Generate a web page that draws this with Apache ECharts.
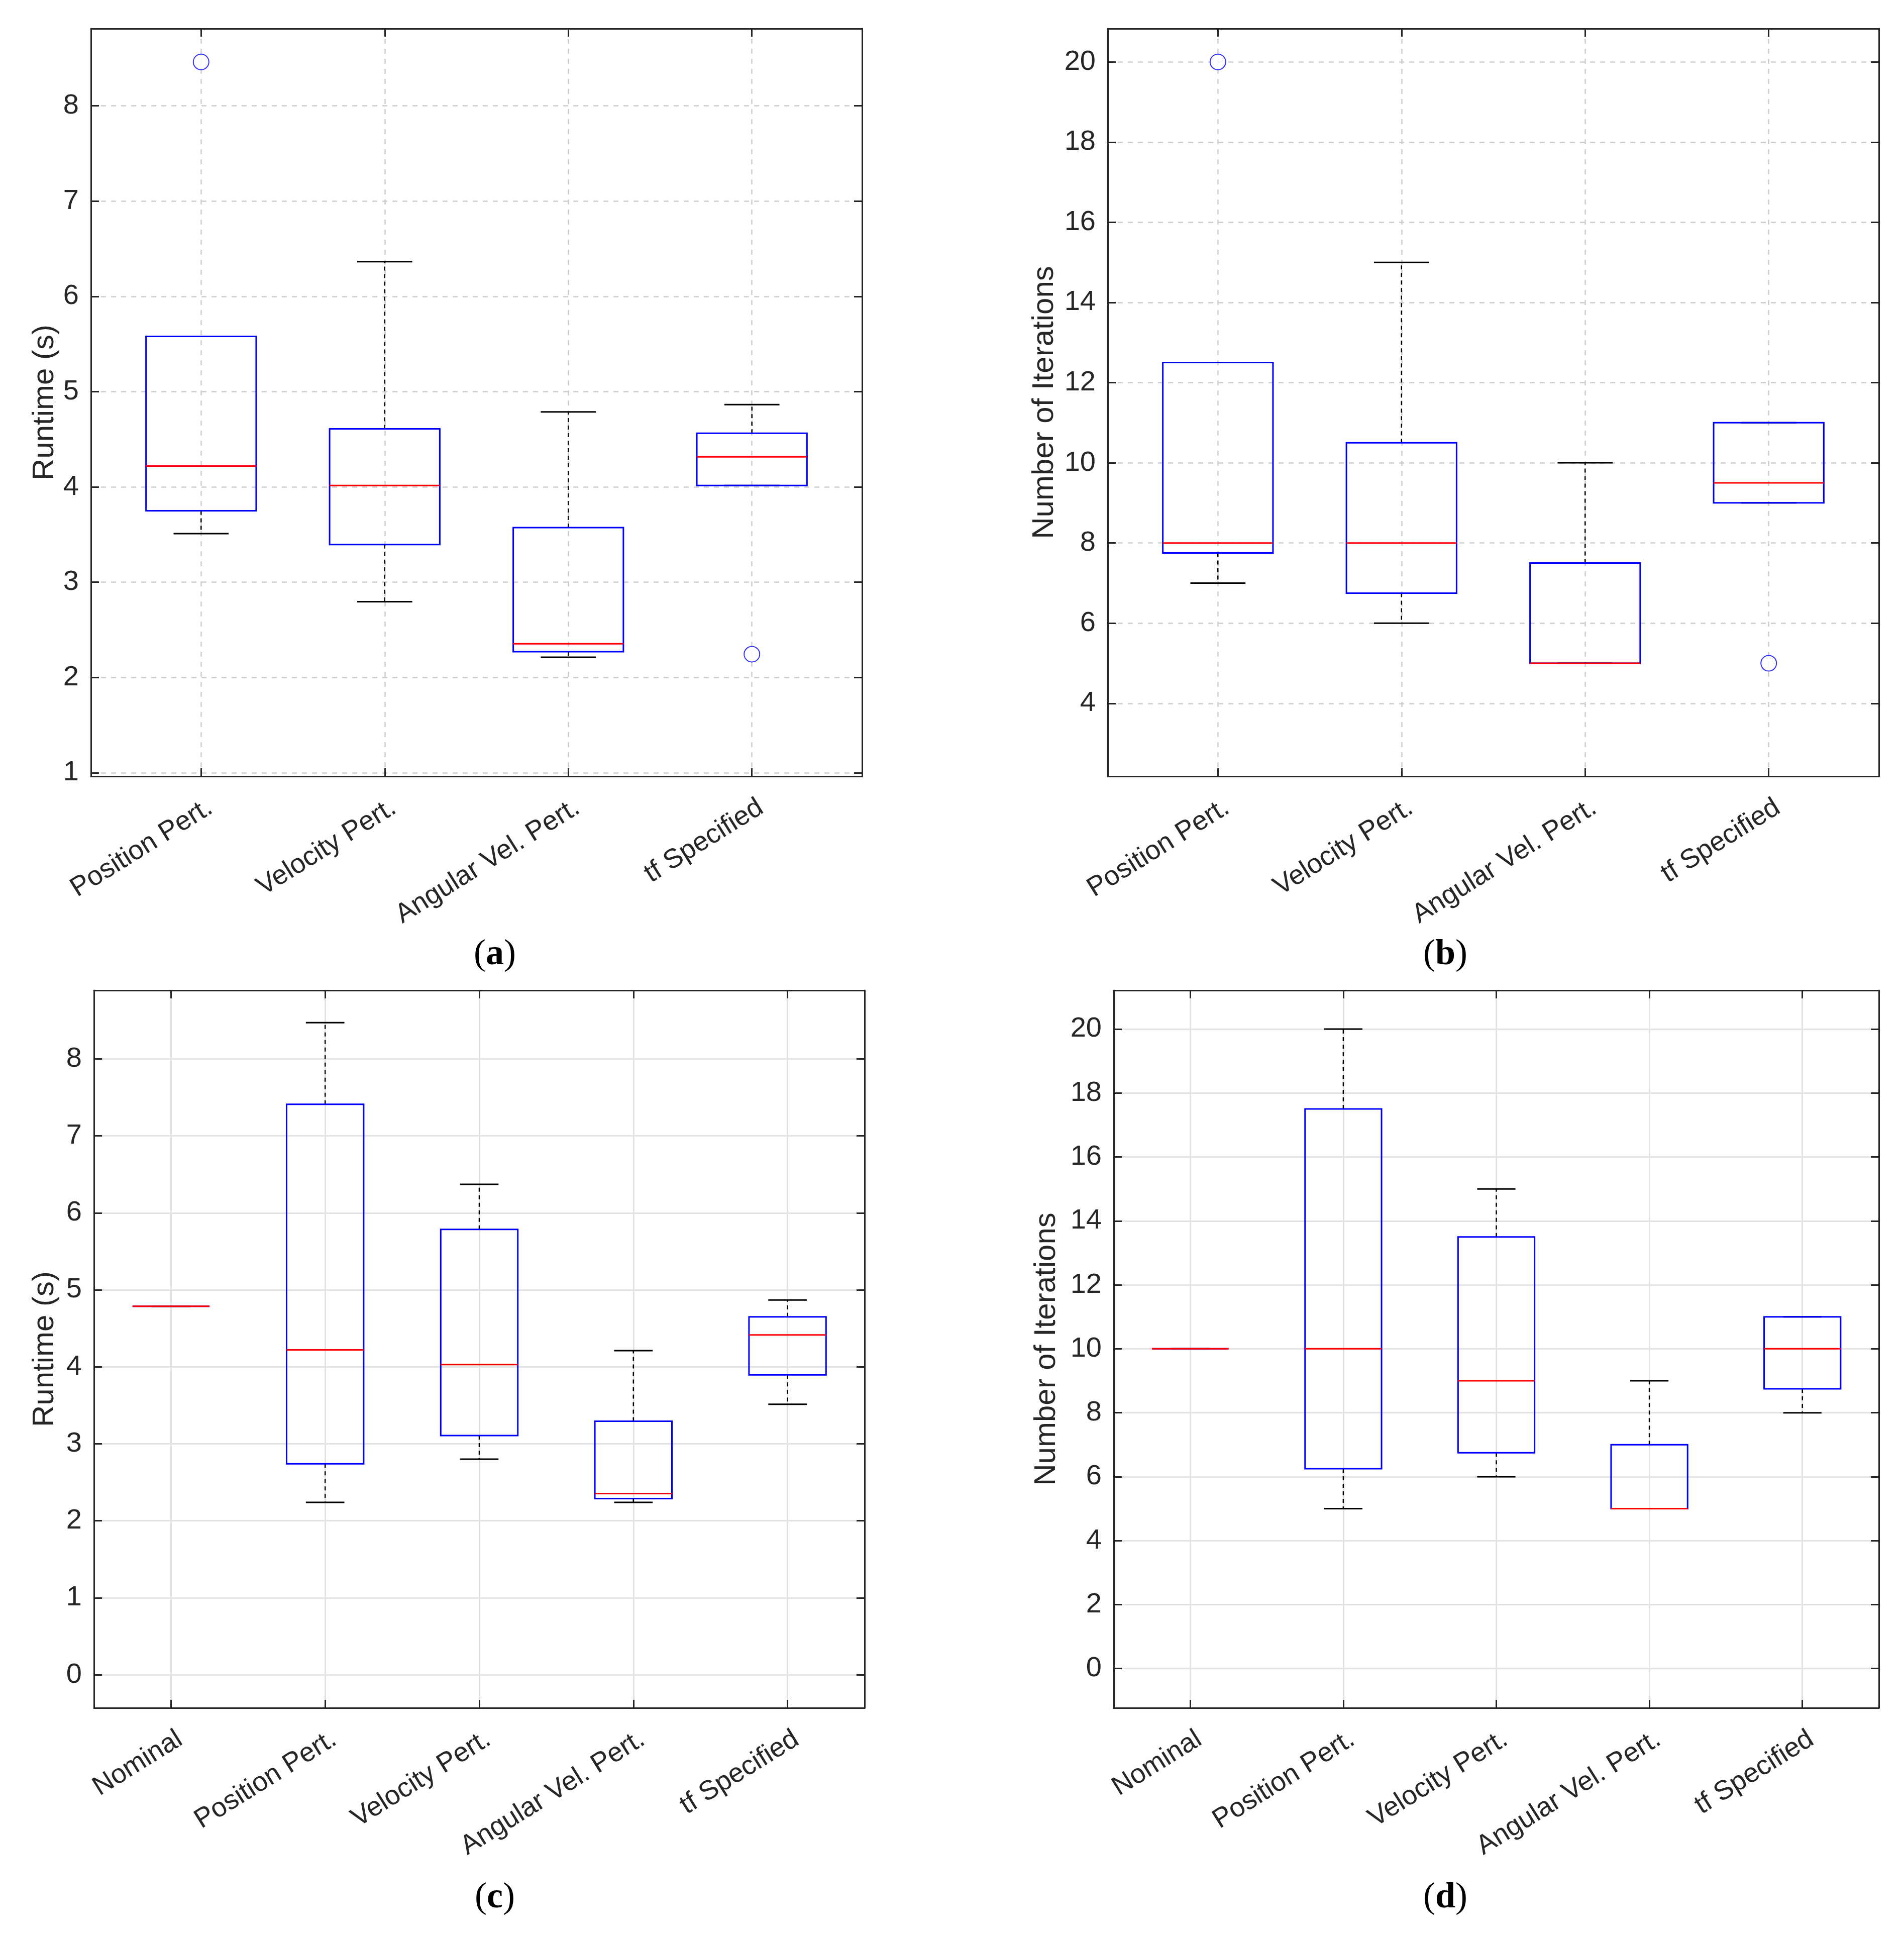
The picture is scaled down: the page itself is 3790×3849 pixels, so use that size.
<!DOCTYPE html>
<html>
<head>
<meta charset="utf-8">
<script src="https://cdn.jsdelivr.net/npm/echarts@6/dist/echarts.min.js"></script>
<style>
  html, body { margin: 0; padding: 0; background: #fff; }
  #main { width: 3790px; height: 3849px; }
</style>
</head>
<body>
<div id="main"></div>
<script>
// categories
var catsAB = ['Position Pert.', 'Velocity Pert.', 'Angular Vel. Pert.', 'tf Specified'];
var catsCD = ['Nominal', 'Position Pert.', 'Velocity Pert.', 'Angular Vel. Pert.', 'tf Specified'];

// box values: [lower whisker, Q1, median, Q3, upper whisker]
var runtimeA = [
  [3.51, 3.75, 4.22, 5.58, 5.58],
  [2.795, 3.395, 4.015, 4.61, 6.365],
  [2.213, 2.271, 2.354, 3.574, 4.787],
  [4.015, 4.015, 4.315, 4.564, 4.864]
];
var runtimeAOutliers = [[1, 8.46], [4, 2.245]];

var iterB = [
  [7, 7.75, 8, 12.5, 12.5],
  [6, 6.75, 8, 10.5, 15],
  [5, 5, 5, 7.5, 10],
  [9, 9, 9.5, 11, 11]
];
var iterBOutliers = [[1, 20], [4, 5]];

var runtimeC = [
  [4.787, 4.787, 4.787, 4.787, 4.787],
  [2.24, 2.74, 4.22, 7.41, 8.47],
  [2.8, 3.108, 4.03, 5.785, 6.37],
  [2.24, 2.288, 2.353, 3.294, 4.21],
  [3.513, 3.895, 4.414, 4.65, 4.868]
];

var iterD = [
  [10, 10, 10, 10, 10],
  [5, 6.25, 10, 17.5, 20],
  [6, 6.75, 9, 13.5, 15],
  [5, 5, 5, 7, 9],
  [8, 8.75, 10, 11, 11]
];

// tick labels
var ticksA = [1, 2, 3, 4, 5, 6, 7, 8];
var ticksB = [4, 6, 8, 10, 12, 14, 16, 18, 20];
var ticksC = [0, 1, 2, 3, 4, 5, 6, 7, 8];
var ticksD = [0, 2, 4, 6, 8, 10, 12, 14, 16, 18, 20];

var chartDom = document.getElementById('main');
var myChart = echarts.init(chartDom);

var FONT = 'Liberation Sans';
var INK = '#262626';

function positions(n, shift) {
  var p = [];
  for (var i = 1; i <= n; i++) p.push(i + (shift || 0));
  return p;
}

function boxRenderer(halfBox, halfCap) {
  return function (params, api) {
    var x = api.value(0);
    var lo = api.value(1), q1 = api.value(2), md = api.value(3), q3 = api.value(4), hi = api.value(5);
    function pt(dx, v) { return api.coord([x + dx, v]); }
    function seg(a, b, style) {
      return { type: 'line', shape: { x1: a[0], y1: a[1], x2: b[0], y2: b[1] }, style: style };
    }
    var whisk = { stroke: '#000', lineWidth: 2.5, lineDash: [8, 7] };
    var cap = { stroke: '#000', lineWidth: 3 };
    var tl = pt(-halfBox, q3), br = pt(halfBox, q1);
    return {
      type: 'group',
      children: [
        seg(pt(0, q3), pt(0, hi), whisk),
        seg(pt(0, q1), pt(0, lo), whisk),
        seg(pt(-halfCap, hi), pt(halfCap, hi), cap),
        seg(pt(-halfCap, lo), pt(halfCap, lo), cap),
        {
          type: 'rect',
          shape: { x: tl[0], y: tl[1], width: br[0] - tl[0], height: br[1] - tl[1] },
          style: { fill: 'none', stroke: '#0000ff', lineWidth: 3 }
        },
        seg(pt(-halfBox, md), pt(halfBox, md), { stroke: '#ff0000', lineWidth: 3 })
      ]
    };
  };
}

var grids = [];
var xAxes = [];
var yAxes = [];
var series = [];

function addPanel(g, box, cats, boxes, xr, yr, yticks, yname, nameGap, dashed, halfBox, halfCap, outliers) {
  grids.push(box);
  var split = dashed
    ? { show: true, lineStyle: { color: '#cdcdcd', width: 2.5, type: [10, 10] } }
    : { show: true, lineStyle: { color: '#e3e3e3', width: 3, type: 'solid' } };
  var axLine = { show: true, onZero: false, lineStyle: { color: INK, width: 3 } };
  var tick = function (vals) {
    return { show: true, inside: true, length: 16, customValues: vals, lineStyle: { color: INK, width: 3 } };
  };
  var xpos = positions(cats.length);
  // rotated labels sit a little right of their tick, as in the original figure
  var labelShift = 18 / (box.width / (xr[1] - xr[0]));

  xAxes.push({
    gridIndex: g, type: 'value', position: 'bottom', min: xr[0], max: xr[1],
    axisLine: axLine, axisTick: tick(xpos), splitLine: split,
    axisLabel: {
      customValues: positions(cats.length, labelShift), rotate: 32, margin: 58,
      fontFamily: FONT, fontSize: 54, color: INK,
      formatter: function (v) { return cats[Math.round(v) - 1]; }
    }
  });
  xAxes.push({
    gridIndex: g, type: 'value', position: 'top', min: xr[0], max: xr[1],
    axisLine: axLine, axisTick: tick(xpos), splitLine: { show: false }, axisLabel: { show: false }
  });
  yAxes.push({
    gridIndex: g, type: 'value', position: 'left', min: yr[0], max: yr[1],
    axisLine: axLine, axisTick: tick(yticks), splitLine: split,
    axisLabel: { customValues: yticks, margin: 24, fontFamily: FONT, fontSize: 56, color: INK },
    name: yname, nameLocation: 'middle', nameGap: nameGap,
    nameTextStyle: { fontFamily: FONT, fontSize: 60, color: INK }
  });
  yAxes.push({
    gridIndex: g, type: 'value', position: 'right', min: yr[0], max: yr[1],
    axisLine: axLine, axisTick: tick(yticks), splitLine: { show: false }, axisLabel: { show: false }
  });

  series.push({
    type: 'custom',
    xAxisIndex: 2 * g, yAxisIndex: 2 * g,
    renderItem: boxRenderer(halfBox, halfCap),
    encode: { x: 0, y: [1, 2, 3, 4, 5] },
    data: boxes.map(function (row, i) { return [i + 1].concat(row); }),
    z: 3
  });
  if (outliers) {
    series.push({
      type: 'scatter',
      xAxisIndex: 2 * g, yAxisIndex: 2 * g,
      symbol: 'emptyCircle', symbolSize: 31,
      itemStyle: { color: '#0000ff', borderWidth: 3 },
      data: outliers,
      z: 4
    });
  }
}

addPanel(0, { left: 181, top: 57, width: 1535, height: 1488 }, catsAB, runtimeA, [0.4, 4.6], [0.963, 8.81],
  ticksA, 'Runtime (s)', 62, true, 0.3, 0.15, runtimeAOutliers);
addPanel(1, { left: 2205, top: 57, width: 1535, height: 1488 }, catsAB, iterB, [0.4, 4.6], [2.18, 20.83],
  ticksB, 'Number of Iterations', 96, true, 0.3, 0.15, iterBOutliers);
addPanel(2, { left: 187, top: 1971, width: 1534, height: 1428 }, catsCD, runtimeC, [0.5, 5.5], [-0.43, 8.89],
  ticksC, 'Runtime (s)', 68, false, 0.25, 0.125, null);
addPanel(3, { left: 2217, top: 1971, width: 1523, height: 1428 }, catsCD, iterD, [0.5, 5.5], [-1.23, 21.21],
  ticksD, 'Number of Iterations', 104, false, 0.25, 0.125, null);

function subLabel(letter, x, y) {
  return {
    type: 'text', x: x, y: y, z: 10,
    style: {
      text: '{p|(}{b|' + letter + '}{p|)}',
      align: 'center', verticalAlign: 'middle',
      rich: {
        p: { fontFamily: 'Liberation Serif', fontSize: 72, fill: '#000' },
        b: { fontFamily: 'Liberation Serif', fontSize: 72, fontWeight: 'bold', fill: '#000' }
      }
    }
  };
}

var option = {
  backgroundColor: '#fff',
  animation: false,
  grid: grids,
  xAxis: xAxes,
  yAxis: yAxes,
  series: series,
  graphic: [
    subLabel('a', 985, 1900),
    subLabel('b', 2877, 1900),
    subLabel('c', 985, 3777),
    subLabel('d', 2877, 3777)
  ]
};

option && myChart.setOption(option);
</script>
</body>
</html>
